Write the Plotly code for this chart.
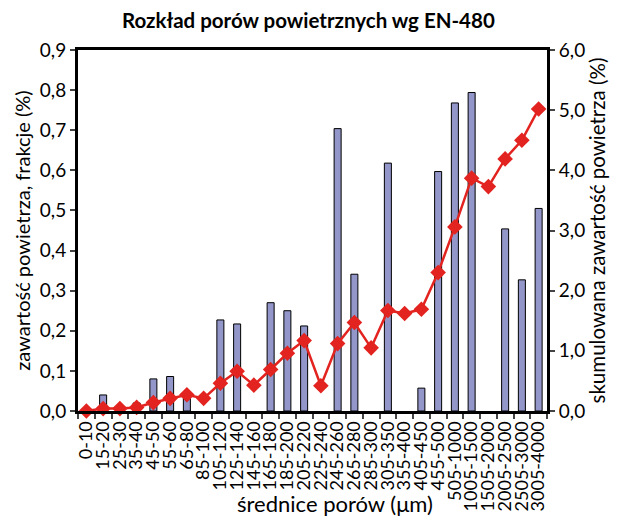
import plotly.graph_objects as go

categories = ["0-10", "15-20", "25-30", "35-40", "45-50", "55-60", "65-80", "85-100",
              "105-120", "125-140", "145-160", "165-180", "185-200", "205-220",
              "225-240", "245-260", "265-280", "285-300", "305-350", "355-400",
              "405-450", "455-500", "505-1000", "1005-1500", "1505-2000",
              "2005-2500", "2505-3000", "3005-4000"]
fraction = [0, 0.04, 0, 0.02, 0.08, 0.086, 0.045, 0,
            0.227, 0.217, 0, 0.27, 0.25, 0.212,
            0, 0.704, 0.341, 0, 0.618, 0,
            0.057, 0.597, 0.768, 0.794, 0,
            0.454, 0.327, 0.505]
cumulative = [0.0, 0.04, 0.04, 0.06, 0.14, 0.21, 0.27, 0.21,
              0.46, 0.66, 0.43, 0.69, 0.96, 1.17,
              0.42, 1.12, 1.47, 1.05, 1.67, 1.62,
              1.69, 2.30, 3.06, 3.87, 3.73,
              4.19, 4.50, 5.02]
y1_ticks = [0, 0.1, 0.2, 0.3, 0.4, 0.5, 0.6, 0.7, 0.8, 0.9]
y2_ticks = [0, 1, 2, 3, 4, 5, 6]

FONT = "Lato"

fig = go.Figure()
fig.add_trace(go.Bar(x=categories, y=fraction,
                     marker=dict(color="#9296c8",
                                 line=dict(color="black", width=[1 if v > 0 else 0 for v in fraction])),
                     yaxis="y", showlegend=False))
fig.add_trace(go.Scatter(x=categories, y=cumulative, yaxis="y2", mode="lines+markers",
                         line=dict(color="#e2231f", width=2.5),
                         marker=dict(symbol="diamond", size=12, color="#e2231f"),
                         showlegend=False, cliponaxis=False))

fig.update_layout(
    width=613, height=510,
    margin=dict(l=70, r=74, t=42, b=107),
    paper_bgcolor="white", plot_bgcolor="white",
    separators=", ",
    font=dict(family=FONT, size=18, color="black"),
    title=dict(text="<b>Rozkład porów powietrznych wg EN-480</b>", x=0.49, xanchor="center",
               y=0.975, yanchor="middle", font=dict(size=20.5, family=FONT)),
    bargap=0.58,
    xaxis=dict(type="category", range=[-0.5, len(categories) - 0.5],
               tickmode="array", tickvals=categories, ticktext=categories,
               tickangle=-90, ticks="outside", ticklen=5, tickwidth=2,
               tickson="boundaries", showline=True, linecolor="black", linewidth=3,
               mirror=True, showgrid=False, tickfont=dict(size=18), automargin=False),
    yaxis=dict(range=[0, 0.9], tickmode="array", tickvals=y1_ticks, tickformat=".1f",
               ticks="outside", ticklen=5, tickwidth=2, showline=True, linecolor="black",
               linewidth=3, showgrid=False, zeroline=False, tickfont=dict(size=19), automargin=False,
               title=dict(text="zawartość powietrza, frakcje (%)", standoff=4, font=dict(size=20))),
    yaxis2=dict(range=[0, 6], tickmode="array", tickvals=y2_ticks, tickformat=".1f",
                overlaying="y", side="right",
                ticks="outside", ticklen=5, tickwidth=2, showline=True, linecolor="black",
                linewidth=3, showgrid=False, zeroline=False, tickfont=dict(size=19), automargin=False,
                title=dict(text="skumulowana zawartość powietrza (%)", standoff=6, font=dict(size=20.5))),
    annotations=[dict(text="średnice porów (μm)", xref="paper", yref="paper", x=0.548, y=-0.255,
                      xanchor="center", yanchor="middle", showarrow=False, font=dict(size=22))],
)

fig.write_html("out.html")
